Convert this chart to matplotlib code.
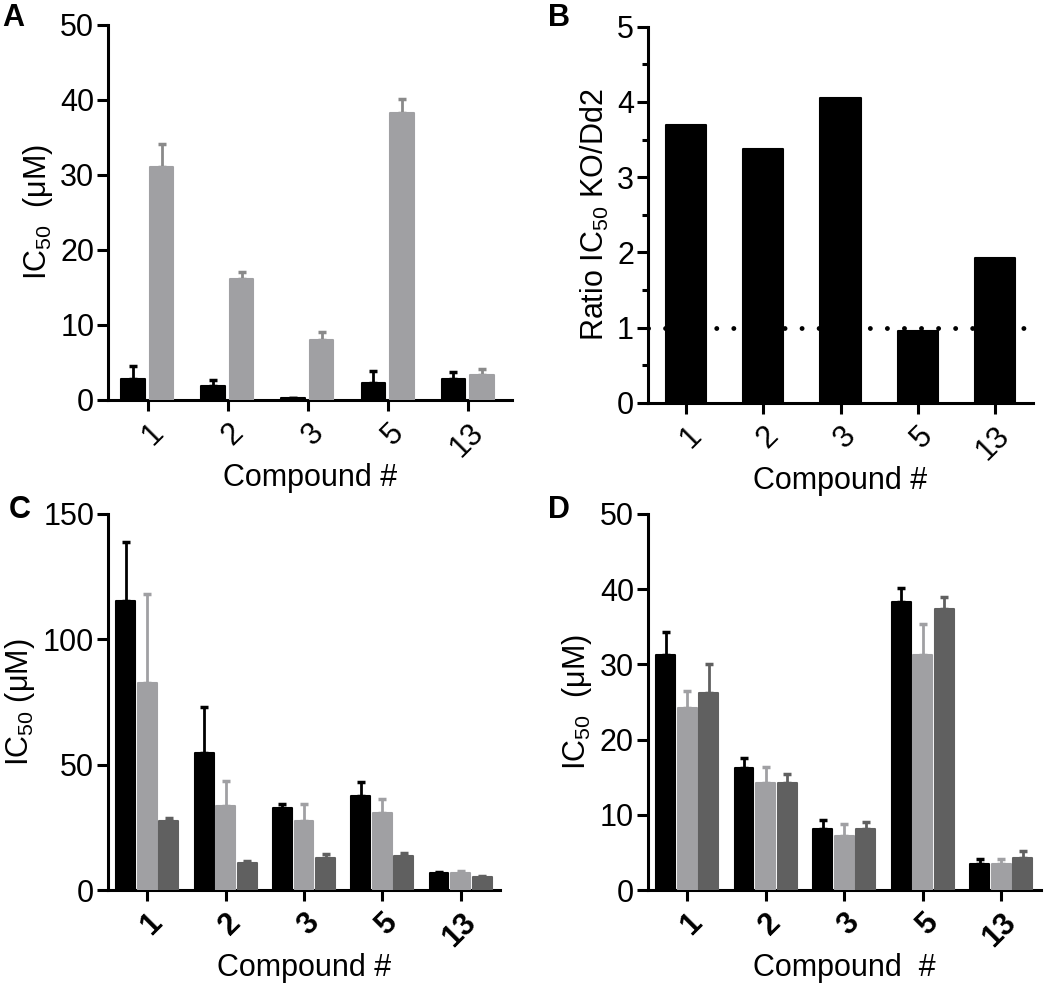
import numpy as np
import matplotlib
matplotlib.use("Agg")
import matplotlib.pyplot as plt

plt.rcParams['font.family'] = ['Liberation Sans', 'DejaVu Sans']
plt.rcParams['mathtext.default'] = 'regular'

compounds = ['1', '2', '3', '5', '13']

# panel A: IC50 in Dd2 (black) and KO (grey)
a_black = [2.75, 1.8, 0.2, 2.3, 2.75]
a_black_err = [1.8, 0.9, 0.0, 1.5, 1.0]
a_grey = [31.1, 16.1, 8.0, 38.2, 3.3]
a_grey_err = [3.0, 0.9, 1.0, 1.9, 0.8]

# panel B: ratio KO/Dd2
b_ratio = [3.70, 3.37, 4.05, 0.96, 1.93]

# panel C
c_black = [115.3, 54.5, 32.6, 37.6, 6.9]
c_black_err = [23.3, 18.6, 1.6, 5.6, 0.1]
c_grey = [82.7, 33.5, 27.5, 30.9, 6.6]
c_grey_err = [35.3, 10.0, 6.7, 5.3, 1.1]
c_dark = [27.5, 10.6, 12.6, 13.7, 5.3]
c_dark_err = [1.4, 1.1, 1.8, 1.2, 0.2]

# panel D
d_black = [31.2, 16.2, 8.1, 38.3, 3.5]
d_black_err = [3.1, 1.4, 1.2, 1.8, 0.6]
d_grey = [24.2, 14.2, 7.2, 31.3, 3.5]
d_grey_err = [2.2, 2.2, 1.6, 4.0, 0.6]
d_dark = [26.2, 14.2, 8.1, 37.3, 4.3]
d_dark_err = [3.8, 1.2, 1.0, 1.6, 0.9]

BLACK = '#000000'
GREY = '#a0a0a3'
DARK = '#606060'
FS = 22


def style_axes(ax, ymax, ystep, bold_x=False):
    ax.spines['top'].set_visible(False)
    ax.spines['right'].set_visible(False)
    for s in ['left', 'bottom']:
        ax.spines[s].set_linewidth(2.2)
    ax.set_ylim(0, ymax)
    ax.set_yticks(np.arange(0, ymax + 0.001, ystep))
    ax.tick_params(axis='both', width=2.2, length=8, labelsize=FS, pad=2)
    ax.set_xticks(range(len(compounds)))
    ax.set_xticklabels(compounds, rotation=45, ha='right', rotation_mode='anchor',
                       fontweight='bold' if bold_x else 'normal')
    ax.tick_params(axis='x', pad=5)


def bars(ax, x, vals, errs, color, width, ecolor=None):
    ax.bar(x, vals, width=width, color=color, edgecolor=color, linewidth=1.5,
           joinstyle='round', zorder=3)
    if errs is not None:
        ax.errorbar(x, vals, yerr=[np.zeros(len(errs)), errs], fmt='none',
                    ecolor=ecolor or color, elinewidth=2, capsize=3, capthick=2.5,
                    zorder=2)


fig = plt.figure(figsize=(10.5, 9.9), dpi=100)
x = np.arange(len(compounds))

# A
axA = fig.add_axes([0.103, 0.596, 0.385, 0.379])
bars(axA, x - 0.19, a_black, a_black_err, BLACK, 0.29)
bars(axA, x + 0.17, a_grey, a_grey_err, GREY, 0.29, ecolor='#8a8a8a')
style_axes(axA, 50, 10)
axA.set_xlim(-0.5, 4.55)
axA.set_ylabel('IC$_{50}$  (μM)', fontsize=FS)
axA.set_xlabel('Compound #', fontsize=FS, labelpad=0)

# B
axB = fig.add_axes([0.617, 0.593, 0.367, 0.380])
axB.axhline(1, color='black', linewidth=3.5, linestyle=(0, (0.01, 3.5)),
            dash_capstyle='round', zorder=1)
bars(axB, x, b_ratio, None, BLACK, 0.52)
style_axes(axB, 5, 1)
axB.set_yticks(np.arange(0.5, 5, 1), minor=True)
axB.tick_params(axis='y', which='minor', width=2.2, length=4)
axB.set_xlim(-0.5, 4.5)
axB.set_ylabel('Ratio IC$_{50}$ KO/Dd2', fontsize=FS)
axB.set_xlabel('Compound #', fontsize=FS, labelpad=0)

# C
axC = fig.add_axes([0.103, 0.101, 0.373, 0.380])
bars(axC, x - 0.275, c_black, c_black_err, BLACK, 0.24)
bars(axC, x, c_grey, c_grey_err, GREY, 0.24)
bars(axC, x + 0.275, c_dark, c_dark_err, DARK, 0.24)
style_axes(axC, 150, 50, bold_x=True)
axC.set_xlim(-0.5, 4.5)
axC.set_ylabel('IC$_{50}$ (μM)', fontsize=FS)
axC.set_xlabel('Compound #', fontsize=FS, labelpad=0)

# D
axD = fig.add_axes([0.617, 0.101, 0.374, 0.380])
bars(axD, x - 0.275, d_black, d_black_err, BLACK, 0.24)
bars(axD, x, d_grey, d_grey_err, GREY, 0.24)
bars(axD, x + 0.275, d_dark, d_dark_err, DARK, 0.24)
style_axes(axD, 50, 10, bold_x=True)
axD.set_xlim(-0.5, 4.5)
axD.set_ylabel('IC$_{50}$  (μM)', fontsize=FS)
axD.set_xlabel('Compound  #', fontsize=FS, labelpad=0)

for lbl, px, py in [('A', 0.002, 0.997), ('B', 0.522, 0.997),
                    ('C', 0.008, 0.500), ('D', 0.522, 0.500)]:
    fig.text(px, py, lbl, fontsize=22, fontweight='bold', va='top', ha='left')

fig.savefig('out.png', dpi=100)
